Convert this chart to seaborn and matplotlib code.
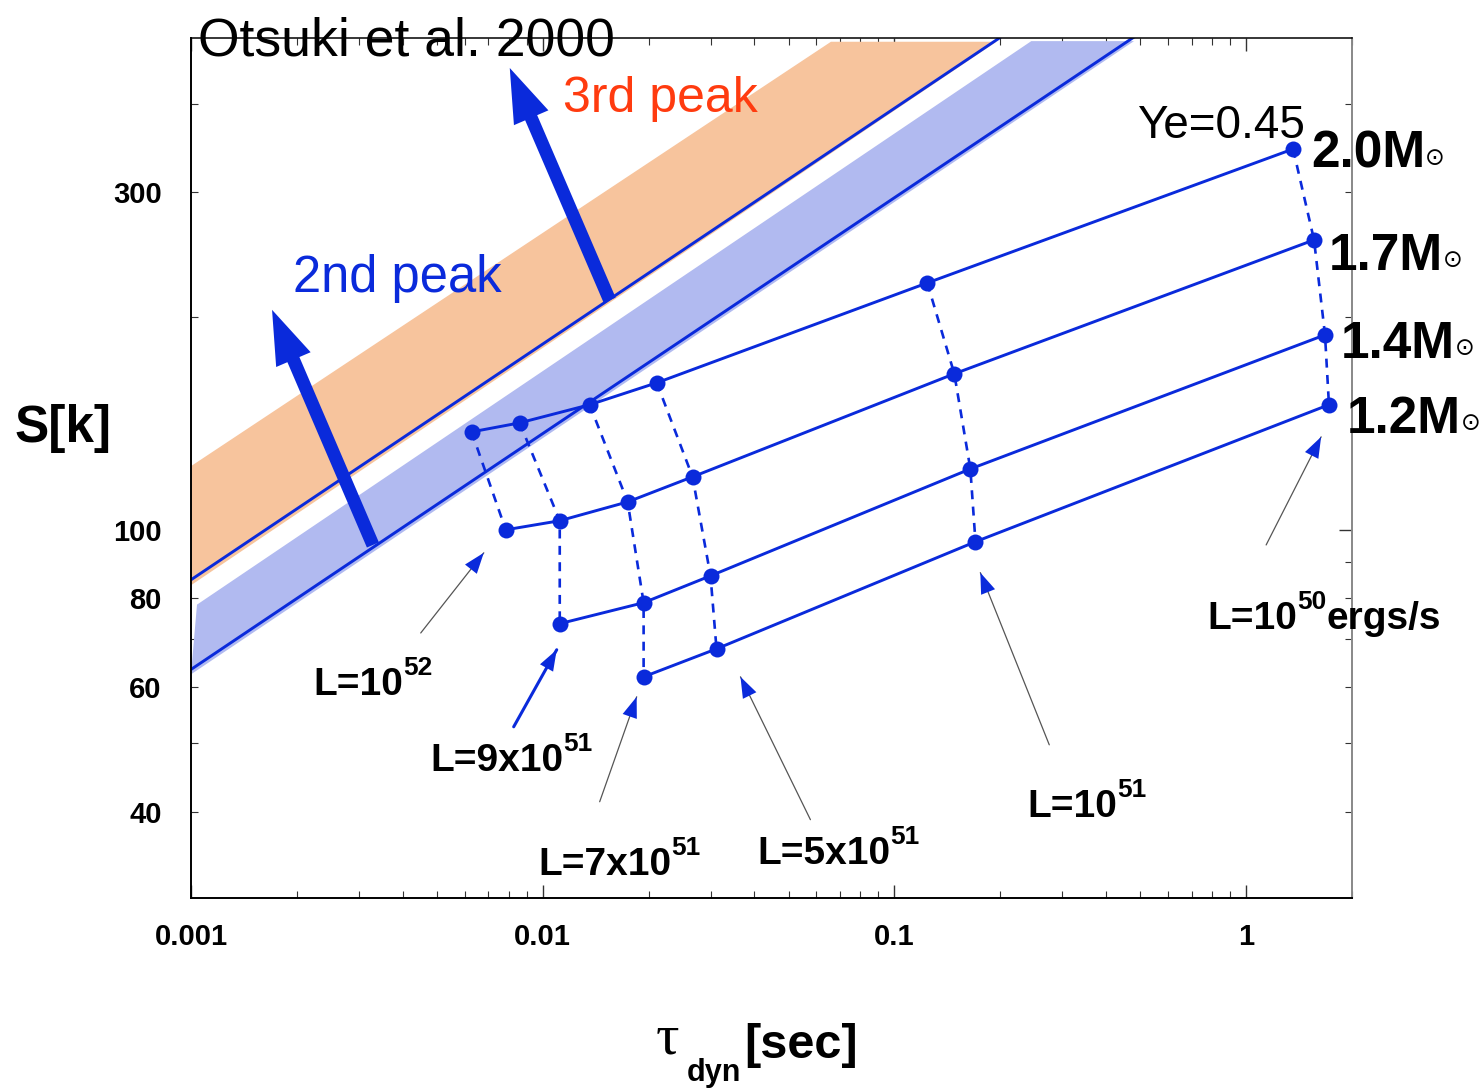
import numpy as np
import pandas as pd
import matplotlib
matplotlib.use("Agg")
import matplotlib.pyplot as plt
import seaborn as sns
from matplotlib.ticker import FixedLocator, FixedFormatter, LogLocator, NullFormatter

# ---------------------------------------------------------------------------
# Wind models: dynamical timescale tau_dyn [s] and entropy S [k] for each
# proto-neutron-star mass, one point per neutrino luminosity (Ye = 0.45)
# ---------------------------------------------------------------------------
tau_20 = [0.00628, 0.0086, 0.0136, 0.0211, 0.124, 1.36]
S_20 = [137.5, 141.6, 150.2, 161.3, 223.2, 345.0]
L_20 = ["1e52", "9e51", "7e51", "5e51", "1e51", "1e50"]

tau_17 = [0.00785, 0.01118, 0.01744, 0.02667, 0.148, 1.56]
S_17 = [100.0, 103.0, 109.5, 118.8, 166.1, 256.7]
L_17 = ["1e52", "9e51", "7e51", "5e51", "1e51", "1e50"]

tau_14 = [0.01118, 0.01936, 0.0300, 0.1644, 1.676]
S_14 = [73.7, 78.9, 86.1, 121.9, 188.5]
L_14 = ["9e51", "7e51", "5e51", "1e51", "1e50"]

tau_12 = [0.01936, 0.0312, 0.170, 1.72]
S_12 = [62.0, 67.9, 96.2, 150.2]
L_12 = ["7e51", "5e51", "1e51", "1e50"]

# r-process regions (Otsuki et al. 2000): polygon outlines and lower boundaries
peak3_tau = [0.001, 0.001, 0.066, 0.195]
peak3_S = [83.5, 123.0, 489.0, 489.0]
peak2_tau = [0.001, 0.00104, 0.245, 0.48]
peak2_S = [62.5, 78.4, 490.0, 490.0]
line3_tau = [0.001, 0.2]
line3_S = [85.0, 496.0]
line2_tau = [0.001, 0.49]
line2_S = [63.5, 500.0]

xtick_vals = [0.001, 0.01, 0.1, 1]
xtick_labels = ["0.001", "0.01", "0.1", "1"]
ytick_minor = [40, 50, 60, 70, 80, 90, 200, 300, 400]
ytick_minor_labels = ["40", "", "60", "", "80", "", "", "300", ""]

rows = []
for mass, taus, ss, ls in [(2.0, tau_20, S_20, L_20), (1.7, tau_17, S_17, L_17),
                           (1.4, tau_14, S_14, L_14), (1.2, tau_12, S_12, L_12)]:
    for t, s, l in zip(taus, ss, ls):
        rows.append({"mass": mass, "L": l, "tau": t, "S": s})
df = pd.DataFrame(rows)

BLUE = "#0a2adb"
RED = "#ff3b0f"
ORANGE = "#f7c49d"
LIGHTBLUE = "#b1baf0"

W, H, DPI = 1479, 1089, 100
sns.set_style("ticks")
plt.rcParams["font.family"] = ["Liberation Sans", "DejaVu Sans"]

fig = plt.figure(figsize=(W / DPI, H / DPI), dpi=DPI)
fig.patch.set_facecolor("white")
ax = fig.add_axes([191 / W, 1 - 898 / H, (1352 - 191) / W, (898 - 38) / H])
ax.set_xscale("log")
ax.set_yscale("log")
ax.set_xlim(0.001, 2.0)
ax.set_ylim(30.2, 495)

# shaded regions for the 3rd and 2nd abundance peaks
ax.fill(peak3_tau, peak3_S, color=ORANGE, lw=0, zorder=1)
ax.fill(peak2_tau, peak2_S, color=LIGHTBLUE, lw=0, zorder=1)
sns.lineplot(x=line3_tau, y=line3_S, ax=ax, color=BLUE, lw=2.1, estimator=None,
             sort=False, legend=False, zorder=2)
sns.lineplot(x=line2_tau, y=line2_S, ax=ax, color=BLUE, lw=2.1, estimator=None,
             sort=False, legend=False, zorder=2)

# constant-mass tracks (solid) and constant-luminosity links (dashed)
for mass, g in df.groupby("mass", sort=False):
    sns.lineplot(data=g, x="tau", y="S", ax=ax, color=BLUE, lw=2.1, marker="o",
                 markersize=11.5, markeredgewidth=0, estimator=None, sort=False,
                 legend=False, zorder=4)
for lum, g in df.groupby("L", sort=False):
    sns.lineplot(data=g, x="tau", y="S", ax=ax, color=BLUE, lw=1.9,
                 linestyle=(0, (3.4, 2.8)), estimator=None, sort=False,
                 legend=False, zorder=3)

# thick arrows pointing into the r-process regions
fat = dict(arrowstyle="simple,head_length=1.95,head_width=1.35,tail_width=0.47",
           color=BLUE, lw=0, mutation_scale=20, shrinkA=0, shrinkB=0)
ax.annotate("", xy=(0.0017, 204.5), xytext=(0.00329, 95.2), arrowprops=fat, zorder=5)
ax.annotate("", xy=(0.00806, 449.0), xytext=(0.0155, 211.0), arrowprops=fat, zorder=5)


def pointer(tail, tip, line_color="#555555", lw=0.9):
    ax.annotate("", xy=tip, xytext=tail,
                arrowprops=dict(arrowstyle="-", color=line_color, lw=lw,
                                shrinkA=0, shrinkB=0), zorder=5)
    ax.annotate("", xy=tip, xytext=tail,
                arrowprops=dict(arrowstyle="-|>,head_length=0.75,head_width=0.27",
                                color=BLUE, lw=0, mutation_scale=20,
                                shrinkA=0, shrinkB=0), zorder=5)


pointer((0.0045, 71.5), (0.0068, 92.8))
pointer((0.00827, 52.7), (0.01096, 67.7), line_color=BLUE, lw=2.2)
pointer((0.01452, 41.3), (0.0185, 58.1))
pointer((0.0577, 38.96), (0.0365, 62.0))
pointer((0.2756, 49.7), (0.1755, 87.0))
pointer((1.14, 95.2), (1.634, 135.3))

# axes frame and ticks
for side in ["left", "bottom"]:
    ax.spines[side].set_color("black")
    ax.spines[side].set_linewidth(1.4)
ax.spines["top"].set_color("black")
ax.spines["top"].set_linewidth(1.1)
ax.spines["right"].set_color("#888888")
ax.spines["right"].set_linewidth(1.4)

ax.xaxis.set_major_locator(FixedLocator(xtick_vals))
ax.xaxis.set_major_formatter(FixedFormatter(xtick_labels))
ax.xaxis.set_minor_locator(LogLocator(base=10, subs=np.arange(2, 10)))
ax.xaxis.set_minor_formatter(NullFormatter())
ax.yaxis.set_major_locator(FixedLocator([100]))
ax.yaxis.set_major_formatter(FixedFormatter(["100"]))
ax.yaxis.set_minor_locator(FixedLocator(ytick_minor))
ax.yaxis.set_minor_formatter(FixedFormatter(ytick_minor_labels))

ax.tick_params(which="both", direction="in", top=True, right=True,
               color="#333333", labelsize=21, labelcolor="black")
ax.tick_params(which="major", length=9.5, width=1.0)
ax.tick_params(which="minor", length=5, width=0.8)
ax.tick_params(axis="x", which="both", pad=18)
ax.tick_params(axis="y", which="both", pad=21)
ax.set_xlabel("")
ax.set_ylabel("")

fig.canvas.draw()
renderer = fig.canvas.get_renderer()
for lab in (ax.get_xticklabels(which="both") + ax.get_yticklabels(which="both")):
    lab.set_fontweight("bold")


def ftext(x, y, s, **kw):
    kw.setdefault("ha", "left")
    kw.setdefault("va", "baseline")
    return fig.text(x / W, 1 - y / H, s, **kw)


def chain(x, y, parts):
    """Write text pieces one after another; each piece may be raised (pixels)."""
    for s, size, weight, rise, fam in parts:
        t = ftext(x, y - rise, s, fontsize=size, fontweight=weight,
                  family=fam, color="black")
        x = t.get_window_extent(renderer).x1


SANS = ["Liberation Sans", "DejaVu Sans"]

ftext(198, 55, "Otsuki et al. 2000", fontsize=38.5, color="black")
ftext(563, 112, "3rd peak", fontsize=36, color=RED)
ftext(293, 292, "2nd peak", fontsize=36.5, color=BLUE)
ftext(1137, 138, "Ye=0.45", fontsize=33, color="black")

# mass labels
for x0, y0, txt in [(1311, 168, "2.0M"), (1329, 270, "1.7M"),
                    (1341, 358, "1.4M"), (1347, 433, "1.2M")]:
    chain(x0, y0, [(txt, 37, "bold", 0, SANS),
                   ("\u2299", 17, "normal", 3, ["DejaVu Sans"])])

# luminosity labels
chain(313, 695, [("L=10", 28, "bold", 0, SANS), ("52", 19, "bold", 20, SANS)])
chain(430, 771, [("L=9x10", 28, "bold", 0, SANS), ("51", 19, "bold", 20, SANS)])
chain(538, 875, [("L=7x10", 28, "bold", 0, SANS), ("51", 19, "bold", 20, SANS)])
chain(757, 864, [("L=5x10", 28, "bold", 0, SANS), ("51", 19, "bold", 20, SANS)])
chain(1027, 817, [("L=10", 28, "bold", 0, SANS), ("51", 19, "bold", 20, SANS)])
chain(1207, 629, [("L=10", 28, "bold", 0, SANS), ("50", 19, "bold", 20, SANS),
                  ("ergs/s", 28, "bold", 0, SANS)])

# axis titles
ftext(15, 442, "S[k]", fontsize=37, fontweight="bold", color="black")
ftext(656, 1054, "\u03c4", fontsize=42, family=["Liberation Serif", "DejaVu Serif"],
      color="black")
ftext(687, 1081, "dyn", fontsize=22, fontweight="bold", color="black")
ftext(744, 1058, "[sec]", fontsize=35, fontweight="bold", color="black")

fig.savefig("out.png", dpi=DPI, facecolor="white")
